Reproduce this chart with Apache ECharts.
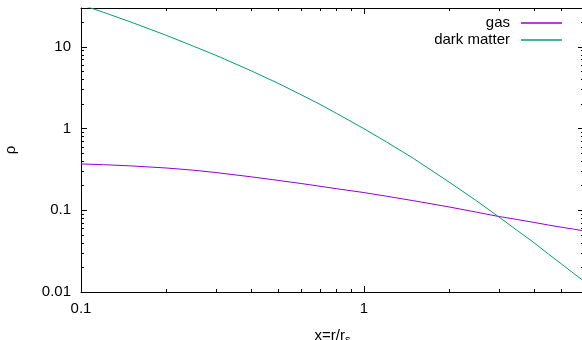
<!DOCTYPE html>
<html><head><meta charset="utf-8">
<script src="https://cdn.jsdelivr.net/npm/echarts@6/dist/echarts.min.js"></script>
<style>html,body{margin:0;padding:0;background:#fff}#c{width:582px;height:340px}</style>
</head><body><div id="c"></div>
<script>
const xValues = [0.1,0.12,0.15,0.2,0.25,0.3,0.4,0.5,0.6,0.7,0.8,1,1.2,1.5,2,2.5,3,3.5,4,4.5,5,5.5,6];
const gasValues = [0.370,0.362,0.350,0.330,0.310,0.290,0.257,0.232,0.213,0.197,0.184,0.165,0.149,0.131,0.110,0.095,0.084,0.077,0.071,0.066,0.062,0.059,0.056];
const darkMatterValues = [33,26.6,20.2,13.9,10.2,7.9,5.1,3.56,2.6,1.98,1.54,1.0,0.69,0.43,0.222,0.131,0.083,0.056,0.040,0.029,0.022,0.017,0.0136];
const seriesNames = ['gas','dark matter'];
const seriesColors = ['#9400d3','#009e73'];
const xMajorTicks = [0.1,1];
const xTickLabels = ['0.1','1'];
const xMinorTicks = [0.2,0.3,0.4,0.5,0.6,0.7,0.8,0.9,2,3,4,5,6];
const yMajorTicks = [0.01,0.1,1,10];
const yTickLabels = ['0.01','0.1','1','10'];
const yMinorTicks = [0.02,0.03,0.04,0.05,0.06,0.07,0.08,0.09,0.2,0.3,0.4,0.5,0.6,0.7,0.8,0.9,2,3,4,5,6,7,8,9,20,30];
const xMin = 0.1, xMax = 6, yMin = 0.01, yMax = 30;

const L = Math.log10;
const FONT = 'Liberation Sans';
const lab = (ticks, labels) => v => {
  const i = ticks.findIndex(t => Math.abs(L(t) - v) < 1e-6);
  return i >= 0 ? labels[i] : '';
};

function axis(dim, position, minor, showLabel) {
  const isX = dim === 'x';
  const ticks = isX ? (minor ? xMinorTicks : xMajorTicks) : (minor ? yMinorTicks : yMajorTicks);
  const a = {
    type: 'value',
    position: position,
    min: L(isX ? xMin : yMin),
    max: L(isX ? xMax : yMax),
    splitLine: {show: false},
    axisLine: {show: !minor, onZero: false, lineStyle: {color: '#000', width: 1}},
    axisTick: {show: true, inside: true, length: minor ? 3 : 6,
      lineStyle: {color: '#000', width: 1},
      customValues: ticks.map(L)},
    axisLabel: {show: showLabel}
  };
  if (showLabel) {
    const majors = isX ? xMajorTicks : yMajorTicks;
    const labels = isX ? xTickLabels : yTickLabels;
    a.axisLabel = {show: true, customValues: majors.map(L), formatter: lab(majors, labels),
      color: '#000', fontFamily: FONT, fontSize: 15, margin: isX ? 9 : 10};
  }
  return a;
}

const xAxes = [axis('x','bottom',false,true), axis('x','bottom',true,false), axis('x','top',false,false), axis('x','top',true,false)];
const yAxes = [axis('y','left',false,true), axis('y','left',true,false), axis('y','right',false,false), axis('y','right',true,false)];
xAxes[0].name = '{a|x=r/r}{b|s}';
xAxes[0].nameLocation = 'middle';
xAxes[0].nameGap = 35;
xAxes[0].nameTextStyle = {rich: {
  a: {fontFamily: FONT, fontSize: 15, color: '#000'},
  b: {fontFamily: FONT, fontSize: 11, color: '#000', padding: [7,0,0,0]}
}};
yAxes[0].name = 'ρ';
yAxes[0].nameLocation = 'middle';
yAxes[0].nameRotate = 90;
yAxes[0].nameGap = 63;
yAxes[0].nameTextStyle = {fontFamily: FONT, fontSize: 15, color: '#000'};

const chart = echarts.init(document.getElementById('c'), null, {renderer: 'canvas'});
chart.setOption({
  animation: false,
  backgroundColor: '#fff',
  grid: {left: 81, right: -2, top: 8, bottom: 48, containLabel: false, outerBoundsMode: 'none'},
  xAxis: xAxes,
  yAxis: yAxes,
  legend: {
    orient: 'vertical', right: 15, top: 10, align: 'right',
    itemWidth: 41, itemHeight: 1.5, itemGap: 1, icon: 'rect',
    textStyle: {fontFamily: FONT, fontSize: 15, color: '#000', padding: [0,6,0,0], lineHeight: 16},
    data: seriesNames
  },
  series: [gasValues, darkMatterValues].map((vals, k) => ({
    name: seriesNames[k],
    type: 'line',
    xAxisIndex: 0, yAxisIndex: 0,
    symbol: 'none',
    clip: true,
    color: seriesColors[k],
    lineStyle: {color: seriesColors[k], width: 1},
    data: xValues.map((x, i) => [L(x), L(vals[i])])
  }))
});
</script></body></html>
